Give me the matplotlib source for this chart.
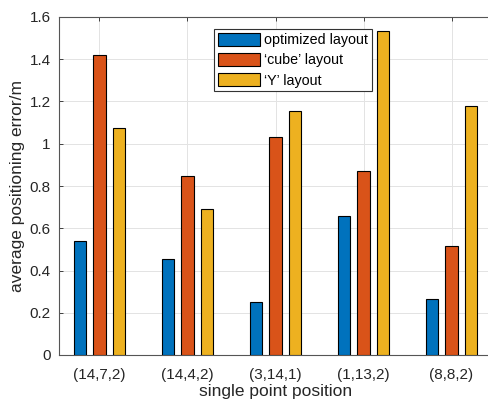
import matplotlib
matplotlib.use("Agg")
import matplotlib.pyplot as plt
import numpy as np

# data
positions = ['(14,7,2)', '(14,4,2)', '(3,14,1)', '(1,13,2)', '(8,8,2)']
optimized = [0.54, 0.455, 0.25, 0.658, 0.265]
cube      = [1.42, 0.847, 1.03, 0.873, 0.516]
y_layout  = [1.075, 0.69, 1.155, 1.534, 1.18]
series_names = ['optimized layout', '\u2018cube\u2019 layout', '\u2018Y\u2019 layout']

plt.rcParams['font.family'] = ['Liberation Sans', 'DejaVu Sans']

W, H = 488, 403
fig = plt.figure(figsize=(W / 100, H / 100), dpi=100)
ax = fig.add_axes([59 / W, 1 - 355 / H, (492 - 59) / W, (355 - 17) / H])

x = np.arange(1, len(positions) + 1)
colors = ['#0072BD', '#D95319', '#EDB120']
offsets = [-0.22, 0.0, 0.22]
width = 0.14
for vals, off, c, name in zip([optimized, cube, y_layout], offsets, colors, series_names):
    ax.bar(x + off, vals, width, color=c, edgecolor='black', linewidth=0.8,
           label=name, zorder=3)

ax.set_xlim(0.54, 5.46)
ax.set_ylim(0, 1.6)
ax.set_yticks(np.arange(0, 1.61, 0.2))
ax.set_yticklabels(['0', '0.2', '0.4', '0.6', '0.8', '1', '1.2', '1.4', '1.6'])
ax.set_xticks(x)
ax.set_xticklabels(positions)
ax.tick_params(direction='in', length=3, width=0.6, labelsize=11, colors='#262626',
               top=True, right=True)
ax.tick_params(axis='x', pad=9)
ax.tick_params(axis='y', pad=6)
for sp in ax.spines.values():
    sp.set_color('#555555')
    sp.set_linewidth(0.8)
ax.grid(True, color='#e3e3e3', linewidth=0.7, zorder=0)
ax.set_axisbelow(True)

ax.set_xlabel('single point position', fontsize=12.5, color='#262626', labelpad=2)
ax.set_ylabel('average positioning error/m', fontsize=12.5, color='#262626', labelpad=3)

leg = ax.legend(loc='upper left', bbox_to_anchor=(214 / W, 1 - 29 / H),
                bbox_transform=fig.transFigure, fontsize=10.3, fancybox=False,
                framealpha=1, edgecolor='#333333', handlelength=3.0,
                handleheight=1.05, handletextpad=0.25, labelspacing=0.4,
                borderpad=0.25, borderaxespad=0)
leg.get_frame().set_linewidth(0.8)

fig.savefig('out.png', dpi=100)
